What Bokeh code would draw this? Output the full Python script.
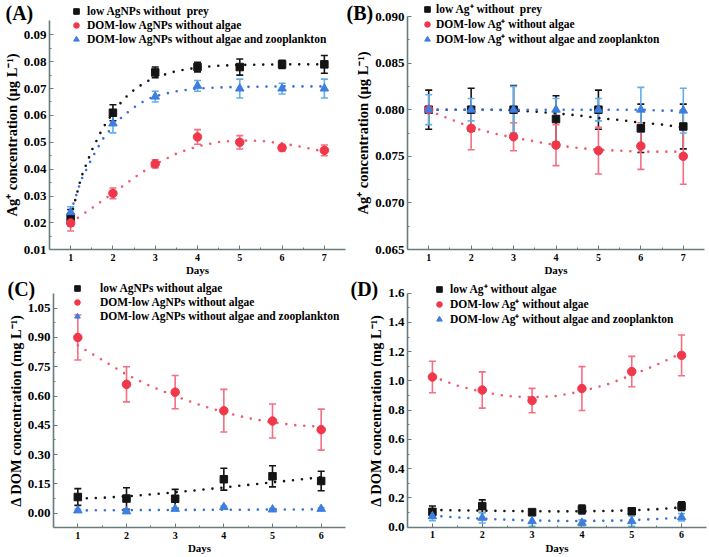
from bokeh.plotting import figure
from bokeh.models import (ColumnDataSource, Whisker, TeeHead, Legend, LegendItem,
                          FixedTicker, Label, PrintfTickFormatter, Range1d)
from bokeh.layouts import column, row
from bokeh.embed import file_html
from bokeh.resources import INLINE

FONT = "Liberation Serif"

# ---------------- data ----------------
A_days = [1, 2, 3, 4, 5, 6, 7]
A_black = [0.022, 0.061, 0.076, 0.078, 0.078, 0.079, 0.079]
A_black_err = [0.003, 0.003, 0.002, 0.0018, 0.003, 0.0015, 0.0033]
A_red = [0.020, 0.031, 0.042, 0.052, 0.050, 0.048, 0.047]
A_red_err = [0.003, 0.002, 0.0015, 0.0027, 0.0025, 0.0012, 0.002]
A_blue = [0.024, 0.057, 0.067, 0.071, 0.070, 0.070, 0.070]
A_blue_err = [0.002, 0.0035, 0.002, 0.002, 0.0035, 0.002, 0.0035]
A_fit_x = [1.0, 1.25, 1.5, 1.75, 2.0, 2.25, 2.5, 2.75, 3.0, 3.5, 4.0, 4.5, 5.0, 5.5, 6.0, 6.5, 7.0]
A_black_fit = [0.022, 0.037, 0.047, 0.055, 0.061, 0.066, 0.0695, 0.0722, 0.0742, 0.0765, 0.0778,
               0.0785, 0.0788, 0.0789, 0.079, 0.079, 0.079]
A_blue_fit = [0.024, 0.036, 0.044, 0.051, 0.056, 0.060, 0.063, 0.0655, 0.0672, 0.069, 0.070,
              0.0704, 0.0706, 0.0707, 0.0708, 0.0708, 0.0708]
A_red_fit = [0.020, 0.0228, 0.0255, 0.0283, 0.031, 0.0339, 0.0368, 0.0394, 0.0418, 0.0458, 0.0485,
             0.0501, 0.0507, 0.0505, 0.0496, 0.0482, 0.0465]
A_yticks = [0.01, 0.02, 0.03, 0.04, 0.05, 0.06, 0.07, 0.08, 0.09]
A_yminor = [0.015, 0.025, 0.035, 0.045, 0.055, 0.065, 0.075, 0.085]
A_labels = ["low AgNPs without  prey", "DOM-low AgNPs without algae",
            "DOM-low AgNPs without algae and zooplankton"]

B_days = [1, 2, 3, 4, 5, 6, 7]
B_black = [0.0800, 0.0800, 0.0800, 0.0790, 0.0800, 0.0780, 0.0782]
B_black_err = [0.0021, 0.0023, 0.0026, 0.0025, 0.0021, 0.0026, 0.0024]
B_red = [0.0800, 0.0780, 0.0771, 0.0762, 0.0756, 0.0761, 0.0750]
B_red_err = [0.0002, 0.0023, 0.0015, 0.0022, 0.0025, 0.0025, 0.0030]
B_blue = [0.0800, 0.0800, 0.0800, 0.0800, 0.0800, 0.0800, 0.0799]
B_blue_err = [0.0016, 0.0012, 0.0025, 0.0012, 0.0012, 0.0024, 0.0024]
B_fit_x = [1.0, 1.5, 2.0, 2.5, 3.0, 3.5, 4.0, 4.5, 5.0, 5.5, 6.0, 6.5, 7.0]
B_black_fit = [0.0800, 0.0800, 0.0800, 0.0800, 0.0799, 0.0798, 0.0796, 0.0794, 0.0791,
               0.0789, 0.0786, 0.0784, 0.0781]
B_red_fit = [0.0799, 0.0790, 0.0781, 0.0775, 0.0770, 0.0766, 0.0762, 0.0759, 0.0757,
             0.0756, 0.0755, 0.0755, 0.0755]
B_blue_fit = [0.0800, 0.0800, 0.0800, 0.0800, 0.0800, 0.0800, 0.0800, 0.0800, 0.0800,
              0.0800, 0.0800, 0.0799, 0.0799]
B_yticks = [0.065, 0.070, 0.075, 0.080, 0.085, 0.090]
B_yminor = [0.0675, 0.0725, 0.0775, 0.0825, 0.0875]
B_labels = ["low Ag\u207a without  prey", "DOM-low Ag\u207a without algae",
            "DOM-low Ag\u207a without algae and zooplankton"]

C_days = [1, 2, 3, 4, 5, 6]
C_black = [0.083, 0.075, 0.074, 0.174, 0.189, 0.165]
C_black_err = [0.043, 0.055, 0.048, 0.056, 0.054, 0.050]
C_red = [0.900, 0.660, 0.620, 0.525, 0.472, 0.428]
C_red_err = [0.115, 0.090, 0.085, 0.109, 0.087, 0.105]
C_blue = [0.014, 0.009, 0.022, 0.031, 0.019, 0.022]
C_blue_err = [0.006, 0.006, 0.006, 0.006, 0.005, 0.006]
C_fit_x = [1.0, 1.5, 2.0, 2.5, 3.0, 3.5, 4.0, 4.5, 5.0, 5.5, 6.0]
C_black_fit = [0.075, 0.079, 0.086, 0.096, 0.107, 0.119, 0.132, 0.145, 0.158, 0.171, 0.184]
C_red_fit = [0.860, 0.785, 0.710, 0.650, 0.600, 0.555, 0.517, 0.487, 0.465, 0.450, 0.443]
C_blue_fit = [0.014, 0.015, 0.016, 0.016, 0.017, 0.017, 0.018, 0.018, 0.019, 0.019, 0.020]
C_yticks = [0.0, 0.15, 0.30, 0.45, 0.60, 0.75, 0.90, 1.05]
C_yminor = [0.075, 0.225, 0.375, 0.525, 0.675, 0.825, 0.975]
C_labels = ["low AgNPs without algae", "DOM-low AgNPs without algae",
            "DOM-low AgNPs without algae and zooplankton"]

D_days = [1, 2, 3, 4, 5, 6]
D_black = [0.105, 0.144, 0.103, 0.121, 0.109, 0.144]
D_black_err = [0.040, 0.043, 0.015, 0.030, 0.015, 0.030]
D_red = [1.027, 0.938, 0.866, 0.948, 1.064, 1.175]
D_red_err = [0.108, 0.124, 0.083, 0.150, 0.104, 0.139]
D_blue = [0.075, 0.064, 0.041, 0.030, 0.041, 0.068]
D_blue_err = [0.030, 0.035, 0.035, 0.020, 0.035, 0.025]
D_fit_x = [1.0, 1.5, 2.0, 2.5, 3.0, 3.5, 4.0, 4.5, 5.0, 5.5, 6.0]
D_black_fit = [0.118, 0.115, 0.113, 0.111, 0.109, 0.108, 0.109, 0.111, 0.115, 0.123, 0.135]
D_red_fit = [1.030, 0.968, 0.925, 0.896, 0.888, 0.897, 0.930, 0.975, 1.040, 1.110, 1.190]
D_blue_fit = [0.078, 0.067, 0.058, 0.051, 0.046, 0.043, 0.042, 0.044, 0.048, 0.056, 0.066]
D_yticks = [0.0, 0.2, 0.4, 0.6, 0.8, 1.0, 1.2, 1.4, 1.6]
D_yminor = [0.1, 0.3, 0.5, 0.7, 0.9, 1.1, 1.3, 1.5]
D_labels = ["low Ag\u207a without algae", "DOM-low Ag\u207a without algae",
            "DOM-low Ag\u207a without algae and zooplankton"]

X7_ticks = [1, 2, 3, 4, 5, 6, 7]
X7_minor = [1.5, 2.5, 3.5, 4.5, 5.5, 6.5]
X6_ticks = [1, 2, 3, 4, 5, 6]
X6_minor = [1.5, 2.5, 3.5, 4.5, 5.5]

# ---------------- style ----------------
BLACK = "#141414"
RED = "#f0384a"
RED_ERR = "#f46e84"
RED_FIT = "#f25a6e"
BLUE = "#3d7ee0"
BLUE_ERR = "#62aee8"
BLUE_FIT = "#3a6fd8"
AXIS = "#687c7c"


def make_panel(tag, days, series, fit_x, fits, W, H,
               xbounds, xpix, ybounds, yref, ypix,
               yticks, yminor, xticks, xminor, yfmt, ylabel, labels,
               leg_left, leg_top, leg_standoff, tag_xy):
    # map the axis box to chosen pixel positions inside a frame that fills the figure
    xa, xb = xbounds
    sx = (xpix[1] - xpix[0]) / (xb - xa)
    x0 = xa - xpix[0] / sx
    x1 = x0 + W / sx
    ya, yb = yref
    sy = (ypix[0] - ypix[1]) / (yb - ya)
    y1 = yb + ypix[1] / sy
    y0 = y1 - H / sy

    p = figure(width=W, height=H, output_backend="svg", toolbar_location=None,
               x_range=Range1d(x0, x1), y_range=Range1d(y0, y1),
               min_border=0, min_border_left=0, min_border_right=0,
               min_border_top=0, min_border_bottom=0)
    p.outline_line_color = None
    p.grid.visible = False
    p.background_fill_color = "white"
    p.border_fill_color = "white"

    xax = p.xaxis[0]
    yax = p.yaxis[0]
    xax.fixed_location = ybounds[0]
    xax.bounds = xbounds
    yax.fixed_location = xbounds[0]
    yax.bounds = ybounds

    for ax in (xax, yax):
        ax.axis_line_color = AXIS
        ax.axis_line_width = 1.6
        ax.major_tick_line_color = AXIS
        ax.minor_tick_line_color = AXIS
        ax.major_tick_in = 4
        ax.major_tick_out = 0
        ax.minor_tick_in = 2
        ax.minor_tick_out = 0
        ax.major_label_text_font = FONT
        ax.major_label_text_font_style = "bold"
        ax.axis_label_text_font = FONT
        ax.axis_label_text_font_style = "bold"
        ax.major_label_text_color = "black"
        ax.axis_label_text_color = "black"

    xax.ticker = FixedTicker(ticks=xticks, minor_ticks=xminor)
    xax.major_label_text_font_size = "10px"
    xax.major_label_standoff = 4
    xax.axis_label = "Days"
    xax.axis_label_text_font_size = "11px"
    xax.axis_label_standoff = 0

    yax.ticker = FixedTicker(ticks=yticks, minor_ticks=yminor)
    yax.formatter = PrintfTickFormatter(format=yfmt)
    yax.major_label_text_font_size = "13px"
    yax.axis_label = ylabel
    yax.axis_label_text_font_size = "14.5px"
    yax.major_label_standoff = 3
    yax.axis_label_standoff = 1

    # fitted dotted curves
    for fy, col in fits:
        p.line(fit_x, fy, line_color=col, line_width=2.6, line_dash="0 9", line_cap="round")

    rends = {}
    for key, vals, errs, col, ecol, marker, size in series:
        lo = [v - e for v, e in zip(vals, errs)]
        hi = [v + e for v, e in zip(vals, errs)]
        src = ColumnDataSource(dict(x=days, y=vals, lo=lo, hi=hi))
        wk = Whisker(source=src, base="x", upper="hi", lower="lo",
                     line_color=ecol, line_width=1.6,
                     upper_head=TeeHead(size=7, line_color=ecol, line_width=1.6),
                     lower_head=TeeHead(size=7, line_color=ecol, line_width=1.6))
        p.add_layout(wk)
        r = p.scatter("x", "y", source=src, marker=marker, size=size,
                      fill_color=col, line_color=col)
        rends[key] = r

    items = [LegendItem(label=labels[0], renderers=[rends["black"]]),
             LegendItem(label=labels[1], renderers=[rends["red"]]),
             LegendItem(label=labels[2], renderers=[rends["blue"]])]
    row_h = 14
    leg = Legend(items=items, location=(leg_left, H - (leg_top + 3 * row_h)),
                 padding=0, margin=0, spacing=0,
                 glyph_width=16, glyph_height=row_h, label_height=row_h,
                 label_standoff=leg_standoff, border_line_alpha=0,
                 background_fill_alpha=0, label_text_font=FONT,
                 label_text_font_style="bold", label_text_font_size="11.5px",
                 label_text_color="black")
    p.add_layout(leg)

    p.add_layout(Label(x=tag_xy[0], y=H - tag_xy[1], x_units="screen", y_units="screen",
                       text=tag, text_font=FONT, text_font_style="bold",
                       text_font_size="20px", text_baseline="top", text_color="black"))
    return p


def series_of(b, be, r, re_, bl, ble):
    return [("black", b, be, BLACK, BLACK, "square", 7.5),
            ("red", r, re_, RED, RED_ERR, "circle", 8.5),
            ("blue", bl, ble, BLUE, BLUE_ERR, "triangle", 8.5)]


ylab_ag = "Ag\u207a concentration (\u03bcg L\u207b\u00b9)"
ylab_dom = "\u0394 DOM concentration (mg L\u207b\u00b9)"

W1, W2 = 346, 362
H1, H2 = 276, 280

pA = make_panel("(A)", A_days, series_of(A_black, A_black_err, A_red, A_red_err, A_blue, A_blue_err),
                A_fit_x, [(A_black_fit, BLACK), (A_blue_fit, BLUE_FIT), (A_red_fit, RED_FIT)],
                W1, H1, (0.5, 7.5), (49, 345), (0.01, 0.0952), (0.01, 0.09), (249.3, 34.3),
                A_yticks, A_yminor, X7_ticks, X7_minor, "%.2f", ylab_ag, A_labels,
                68, 4, 3, (5, 1))
pB = make_panel("(B)", B_days, series_of(B_black, B_black_err, B_red, B_red_err, B_blue, B_blue_err),
                B_fit_x, [(B_black_fit, BLACK), (B_red_fit, RED_FIT), (B_blue_fit, BLUE_FIT)],
                W2, H1, (0.5, 7.5), (61, 358), (0.065, 0.090), (0.065, 0.090), (249, 16),
                B_yticks, B_yminor, X7_ticks, X7_minor, "%.3f", ylab_ag, B_labels,
                73, 4, 1, (0, 1))
pC = make_panel("(C)", C_days, series_of(C_black, C_black_err, C_red, C_red_err, C_blue, C_blue_err),
                C_fit_x, [(C_black_fit, BLACK), (C_red_fit, RED_FIT), (C_blue_fit, BLUE_FIT)],
                W1, H2, (0.5, 6.5), (53, 345), (-0.075, 1.125), (0.0, 1.05), (236.7, 31.7),
                C_yticks, C_yminor, X6_ticks, X6_minor, "%.2f", ylab_dom, C_labels,
                69, 5, 15, (7, 1))
pD = make_panel("(D)", D_days, series_of(D_black, D_black_err, D_red, D_red_err, D_blue, D_blue_err),
                D_fit_x, [(D_black_fit, BLACK), (D_red_fit, RED_FIT), (D_blue_fit, BLUE_FIT)],
                W2, H2, (0.5, 6.5), (61, 360), (0.0, 1.6), (0.0, 1.6), (250.7, 16.7),
                D_yticks, D_yminor, X6_ticks, X6_minor, "%.1f", ylab_dom, D_labels,
                85, 8, 3, (4, 1))

layout = column(row(pA, pB), row(pC, pD))
open("out.html", "w").write(file_html(layout, INLINE))
